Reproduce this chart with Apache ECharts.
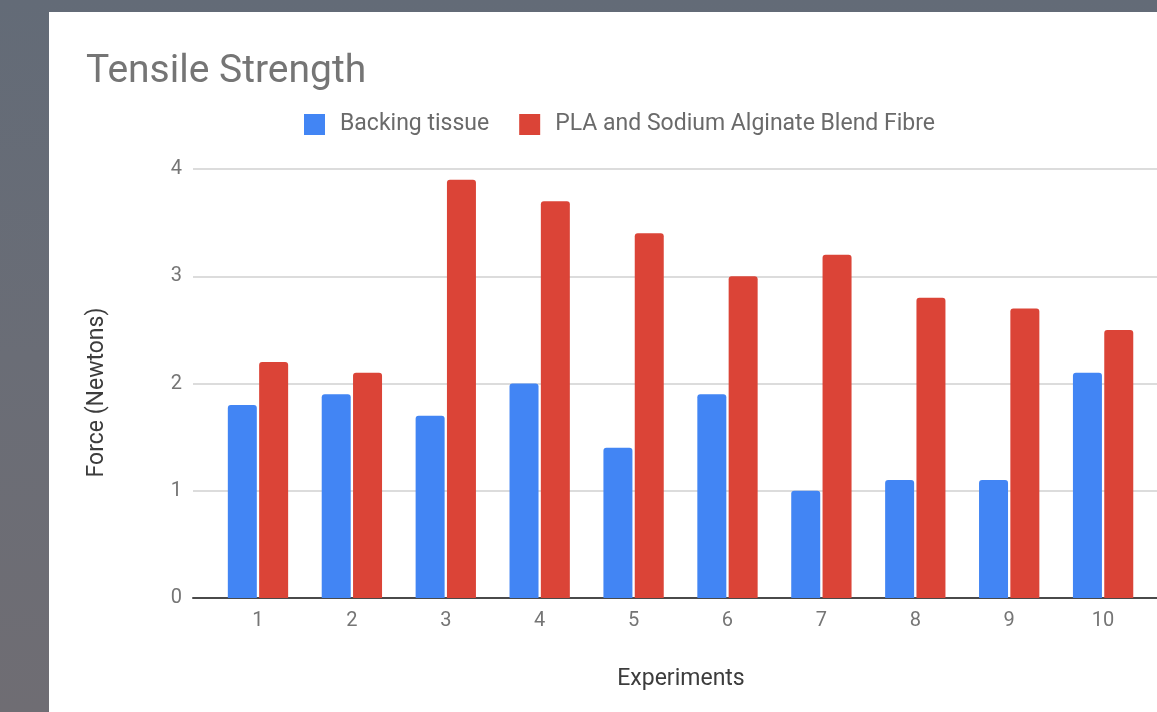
<!DOCTYPE html>
<html>
<head>
<meta charset="utf-8">
<script src="https://cdn.jsdelivr.net/npm/echarts@6/dist/echarts.min.js"></script>
<style>
  html, body { margin: 0; padding: 0; width: 1157px; height: 712px; overflow: hidden; }
  body { background: linear-gradient(180deg, #636b77 0%, #6a6d76 50%, #6f6d73 100%); position: relative; }
  #card { position: absolute; left: 49px; top: 12px; width: 1108px; height: 700px; background: #ffffff; }
</style>
</head>
<body>
<div id="card"></div>
<script>
// Experiment numbers and measured tensile force (N) for each material
const experiments = [1, 2, 3, 4, 5, 6, 7, 8, 9, 10];
const backingTissue = [1.8, 1.9, 1.7, 2.0, 1.4, 1.9, 1.0, 1.1, 1.1, 2.1];
const plaAlginate = [2.2, 2.1, 3.9, 3.7, 3.4, 3.0, 3.2, 2.8, 2.7, 2.5];
const yTicks = [0, 1, 2, 3, 4];

const font = 'Roboto, "Noto Sans", sans-serif';
const chart = echarts.init(document.getElementById('card'));

chart.setOption({
  animation: false,
  textStyle: { fontFamily: font },
  title: {
    text: 'Tensile Strength',
    left: 32,
    top: 36,
    textStyle: { fontFamily: font, fontSize: 39, fontWeight: 'normal', color: '#757575' }
  },
  legend: {
    left: 250,
    top: 96,
    itemWidth: 21,
    itemHeight: 21,
    itemGap: 30,
    icon: 'rect',
    textStyle: { fontFamily: font, fontSize: 23, color: '#6a6a6a', padding: [0, 0, 0, 10] },
    data: ['Backing tissue', 'PLA and Sodium Alginate Blend Fibre']
  },
  grid: { left: 144, right: 0, top: 157, bottom: 114, containLabel: false },
  xAxis: {
    type: 'value',
    min: 0.308,
    max: 10.574,
    name: 'Experiments',
    nameLocation: 'middle',
    nameGap: 70,
    nameTextStyle: { fontFamily: font, fontSize: 23, color: '#3c3c3c', padding: [0, 0, 0, 12] },
    axisLine: { show: true, lineStyle: { color: '#4a4a4a', width: 2 } },
    axisTick: { show: false },
    splitLine: { show: false },
    axisLabel: {
      customValues: experiments,
      margin: 13,
      fontFamily: font,
      fontSize: 20,
      color: '#757575'
    }
  },
  yAxis: {
    type: 'value',
    min: 0,
    max: 4,
    interval: 1,
    name: 'Force (Newtons)',
    nameLocation: 'middle',
    nameGap: 84,
    nameTextStyle: { fontFamily: font, fontSize: 23, color: '#3c3c3c', padding: [0, 18, 0, 0] },
    axisLine: { show: false },
    axisTick: { show: false },
    axisLabel: {
      margin: 11,
      fontFamily: font,
      fontSize: 20,
      color: '#757575',
      formatter: function (v) { return yTicks.indexOf(v) >= 0 ? String(v) : ''; }
    },
    splitLine: { show: true, lineStyle: { color: '#d0d0d0', width: 1.5 } }
  },
  series: [
    {
      name: 'Backing tissue',
      type: 'bar',
      barWidth: 29,
      barGap: '8%',
      itemStyle: { color: '#4285f4', borderRadius: [3, 3, 0, 0] },
      data: experiments.map((x, i) => [x, backingTissue[i]])
    },
    {
      name: 'PLA and Sodium Alginate Blend Fibre',
      type: 'bar',
      barWidth: 29,
      barGap: '8%',
      itemStyle: { color: '#db4437', borderRadius: [3, 3, 0, 0] },
      data: experiments.map((x, i) => [x, plaAlginate[i]])
    }
  ]
});
</script>
</body>
</html>
